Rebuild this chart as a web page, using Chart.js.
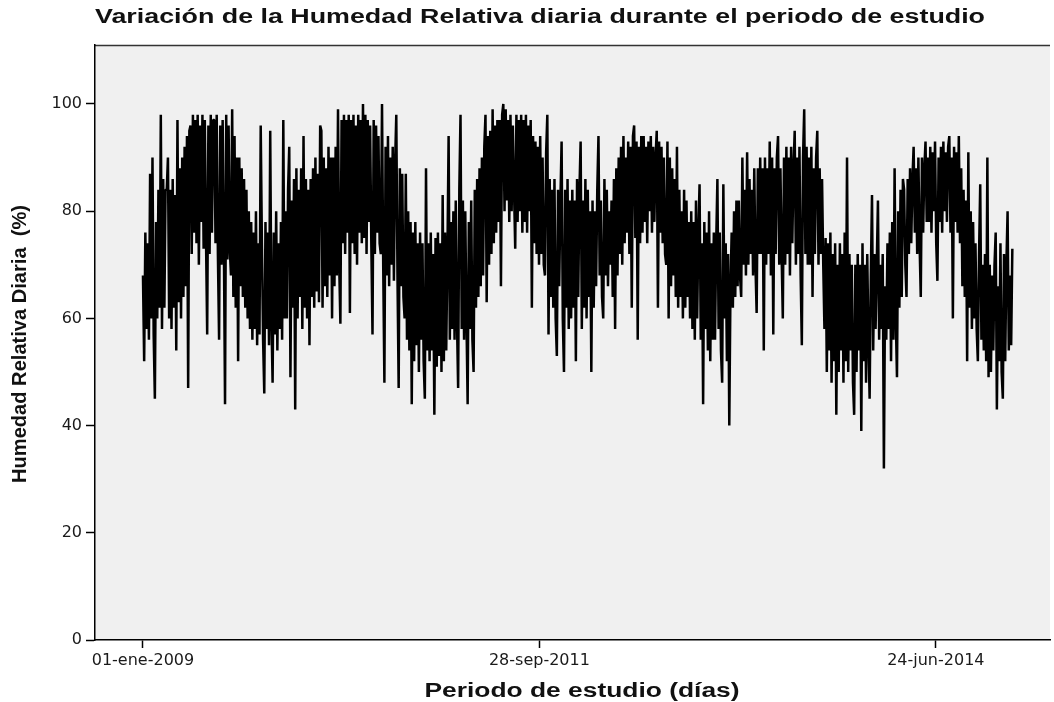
<!DOCTYPE html>
<html><head><meta charset="utf-8">
<script src="https://cdn.jsdelivr.net/npm/chart.js@4"></script>
<style>html,body{margin:0;padding:0;background:#fff;overflow:hidden}</style>
</head><body>
<canvas id="c" width="1054" height="702" style="display:block;width:1054px;height:702px"></canvas>
<script>
const chartTitle = 'Variación de la Humedad Relativa diaria durante el periodo de estudio';
const xAxisTitle = 'Periodo de estudio (días)';
const yAxisTitle = 'Humedad Relativa Diaria  (%)';
const xTickDays = [0, 1000, 2000];
const xTickLabels = ['01-ene-2009', '28-sep-2011', '24-jun-2014'];
const yTicks = [0, 20, 40, 60, 80, 100];
const stepDays = 3; // one reading every 3 days, starting 01-ene-2009

const hr2009 = [68,52,76,58,74,56,87,60,90,57,45,78,60,84,62,98,58,86,62,84,
  84,90,60,84,58,86,62,83,54,97,63,88,60,90,64,92,66,94,47,95,
  96,72,98,76,97,74,98,70,96,78,98,73,97,75,57,96,72,98,76,97,
  97,74,98,72,56,96,70,97,75,44,98,71,96,73,68,99,64,94,62,90,
  52,90,66,88,64,86,62,84,60,80,58,78,56,76,58,80,55,74,57,96,
  74,56,46,78,58,76,55,95,60,48,76,57,80,54,74,58,78,56,97,60,
  80,60];
const hr2010 = [84,92,49,82,62,86,43,88,60,84,64,88,58,94,62,86,60,84,
  55,86,64,88,62,90,65,87,63,96,95,62,90,66,88,64,92,68,90,60,
  90,66,92,68,99,70,59,97,74,98,72,97,76,98,61,97,74,98,72,96,
  70,98,76,97,74,100,75,98,72,97,78,96,74,57,97,72,96,76,94,74,
  72,100,70,48,92,68,94,66,90,70,92,67,89,98,68,47,88,66,87,64,
  60,87,56,80,54,78,44,76,52,78,55,74,50,76,56,74,52,45,88,54,
  74,52,76,54];
const hr2011 = [72,42,75,51,76,53,74,50,83,52,76,54,72,94,56,78,
  58,80,56,82,60,47,84,98,58,82,56,80,60,44,78,58,82,56,50,84,
  62,86,64,88,66,90,68,92,98,63,94,70,95,72,99,74,96,76,97,78,
  97,66,98,100,80,99,82,97,78,98,80,96,84,73,98,78,97,80,98,76,
  97,78,98,76,96,80,97,62,94,74,93,72,92,70,94,72,90,70,68,91,
  98,57,86,64,84,62,86,60,53,84,66,82,93,60,50,84,62,86,58,82,
  60,84,62,82,52,86];
const hr2012 = [64,84,93,58,82,62,86,60,84,64,80,50,82,62,
  80,66,84,94,68,82,64,60,86,68,84,66,80,70,82,64,86,58,88,68,
  90,72,92,70,94,74,90,76,93,72,92,62,94,96,75,93,56,92,74,94,
  76,94,78,92,74,93,80,94,76,92,78,90,95,62,93,76,92,74,90,72,
  70,93,60,90,66,88,68,86,64,92,62,84,64,80,60,84,62,82,64,78,
  60,80,58,78,56,82,60,76,85,56,74,44,78,58,76,54,80,52,74,56,
  76,56,74,86,58,76,54,48];
const hr2013 = [85,60,74,52,72,40,66,76,62,80,64,82,
  66,82,68,64,90,70,84,68,91,70,86,72,84,68,88,70,61,88,72,90,
  72,88,54,90,70,88,72,93,68,90,57,88,72,90,94,70,88,72,60,90,
  70,92,72,90,68,92,74,88,95,70,90,72,92,68,55,90,99,72,92,70,
  90,70,92,64,88,72,90,95,70,88,72,86,70,58,75,50,74,54,76,48,
  72,52,74,42,70,50,74,54,72,48,76,52,90,50,72,54,70,48,42,70,
  50,72,54,70,39,74,52,70,48,72];
const hr2014 = [56,45,68,83,54,72,58,70,82,56,
  70,58,72,32,66,56,74,58,76,52,78,56,88,60,49,80,62,84,64,86,
  84,70,64,86,72,88,74,86,92,76,88,72,90,74,64,90,76,88,93,78,
  90,78,92,76,91,80,93,74,67,90,78,92,76,93,80,91,78,92,94,76,
  90,60,92,78,91,76,94,74,88,66,84,64,82,52,91,62,80,58,78,60,
  74,58,52,72,85,56,70,54,72,52,90,49,70,50,68,54,70,76,43,66,
  52,74,50,45,72,52,70,80,54,68,55,73];

const humidity = [].concat(hr2009, hr2010, hr2011, hr2012, hr2013, hr2014);
const points = humidity.map((v, i) => ({x: i * stepDays, y: v}));

function drawStretched(ctx, text, font, cx, cy, targetLen, rot, perp) {
  ctx.save();
  ctx.font = font;
  const w = ctx.measureText(text).width;
  ctx.translate(cx, cy);
  if (rot) ctx.rotate(rot);
  ctx.scale(targetLen / w, perp || 1);
  ctx.textAlign = 'center';
  ctx.textBaseline = 'middle';
  ctx.fillStyle = '#111';
  ctx.fillText(text, 0, 0);
  ctx.restore();
}

const decor = {
  id: 'decor',
  beforeDraw(chart) {
    const {ctx, chartArea: a} = chart;
    ctx.save();
    ctx.fillStyle = '#ffffff';
    ctx.fillRect(0, 0, chart.width, chart.height);
    ctx.fillStyle = '#f0f0f0';
    ctx.fillRect(a.left, a.top, a.right - a.left, a.bottom - a.top);
    ctx.strokeStyle = '#333';
    ctx.lineWidth = 1.5;
    ctx.beginPath();
    ctx.moveTo(a.left, a.top + 0.5);
    ctx.lineTo(a.right, a.top + 0.5);
    ctx.stroke();
    ctx.restore();
  },
  afterDraw(chart) {
    const ctx = chart.ctx;
    drawStretched(ctx, chartTitle, 'bold 20px "Liberation Sans"', 540, 17, 890, 0, 1);
    drawStretched(ctx, xAxisTitle, 'bold 20px "Liberation Sans"', 582, 691, 315, 0, 1);
    drawStretched(ctx, yAxisTitle, 'bold 17px "Liberation Sans"', 20, 344, 278, -Math.PI / 2, 1.2);
  }
};

new Chart(document.getElementById('c'), {
  type: 'line',
  data: {
    datasets: [{
      data: points,
      borderColor: '#000',
      borderWidth: 2.5,
      borderJoinStyle: 'bevel',
      borderCapStyle: 'butt',
      pointRadius: 0,
      tension: 0,
      fill: false
    }]
  },
  options: {
    responsive: false,
    devicePixelRatio: 1,
    animation: false,
    layout: {padding: {top: 45, right: 4, left: 0, bottom: 0}},
    plugins: {legend: {display: false}, title: {display: false}, tooltip: {enabled: false}},
    scales: {
      x: {
        type: 'linear', min: -121, max: 2288,
        afterFit(s) { s.height = 62; },
        afterBuildTicks(s) { s.ticks = xTickDays.map(v => ({value: v})); },
        ticks: {
          autoSkip: false, maxRotation: 0, padding: 3, color: '#1a1a1a',
          font: {family: 'DejaVu Sans', size: 16},
          callback: (v) => { const i = xTickDays.indexOf(v); return i >= 0 ? xTickLabels[i] : ''; }
        },
        grid: {drawOnChartArea: false, drawTicks: true, tickLength: 8, tickColor: '#000', tickWidth: 1.5},
        border: {display: true, color: '#000', width: 1.5}
      },
      y: {
        min: 0, max: 111,
        afterFit(s) { s.width = 95; },
        afterBuildTicks(s) { s.ticks = yTicks.map(v => ({value: v})); },
        ticks: {
          padding: 4, color: '#1a1a1a',
          font: {family: 'DejaVu Sans', size: 16}
        },
        grid: {drawOnChartArea: false, drawTicks: true, tickLength: 9, tickColor: '#000', tickWidth: 1.5},
        border: {display: true, color: '#000', width: 1.5}
      }
    }
  },
  plugins: [decor]
});
</script>
</body></html>
